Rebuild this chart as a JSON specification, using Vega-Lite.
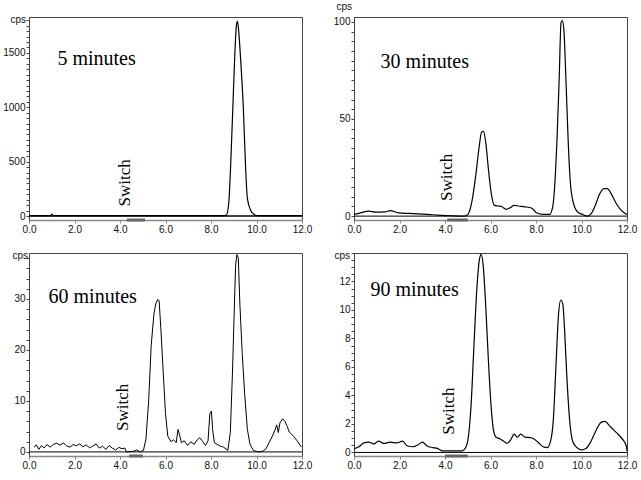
{
  "$schema": "https://vega.github.io/schema/vega-lite/v6.json",
  "padding": {"left": 2, "top": 0, "right": 2, "bottom": 0},
  "background": "white",
  "config": {
    "view": {"stroke": "#444", "strokeWidth": 1},
    "font": "Liberation Sans",
    "axis": {"grid": false, "labelFontSize": 10, "labelColor": "#111", "labelPadding": 1, "tickSize": 3, "labelOverlap": false, "labelFlush": false, "titleFontWeight": "normal", "titleFontSize": 10, "titleColor": "#111"},
    "line": {"color": "black", "strokeWidth": 1.2}
  },
  "datasets": {
    "p5": [
      {"t": 0, "cps": 5}, {"t": 0.5, "cps": 5}, {"t": 0.95, "cps": 5}, {"t": 1.0, "cps": 18}, {"t": 1.05, "cps": 5},
      {"t": 2, "cps": 5}, {"t": 3, "cps": 5}, {"t": 4, "cps": 5}, {"t": 5, "cps": 5}, {"t": 6, "cps": 5}, {"t": 7, "cps": 5},
      {"t": 8, "cps": 5}, {"t": 8.6, "cps": 5}, {"t": 8.68, "cps": 10}, {"t": 8.78, "cps": 120}, {"t": 8.88, "cps": 550},
      {"t": 8.96, "cps": 1000}, {"t": 9.05, "cps": 1500}, {"t": 9.12, "cps": 1760}, {"t": 9.16, "cps": 1790}, {"t": 9.2, "cps": 1740},
      {"t": 9.3, "cps": 1450}, {"t": 9.42, "cps": 1000}, {"t": 9.52, "cps": 450}, {"t": 9.6, "cps": 160}, {"t": 9.75, "cps": 50},
      {"t": 9.9, "cps": 15}, {"t": 10.0, "cps": 5}, {"t": 11, "cps": 5}, {"t": 12, "cps": 5}
    ],
    "p30": [
      {"t": 0, "cps": 0.9}, {"t": 0.29, "cps": 1.7}, {"t": 0.65, "cps": 2.6}, {"t": 0.94, "cps": 2.1}, {"t": 1.37, "cps": 2.2},
      {"t": 1.59, "cps": 2.8}, {"t": 1.95, "cps": 1.7}, {"t": 2.38, "cps": 1.4}, {"t": 2.82, "cps": 1.2}, {"t": 3.25, "cps": 0.9},
      {"t": 3.68, "cps": 0.5}, {"t": 4.26, "cps": 0.2}, {"t": 4.84, "cps": 0}, {"t": 5.01, "cps": 0.9}, {"t": 5.2, "cps": 8.6},
      {"t": 5.35, "cps": 20.8}, {"t": 5.49, "cps": 34.6}, {"t": 5.61, "cps": 43.3}, {"t": 5.69, "cps": 43.6}, {"t": 5.79, "cps": 38},
      {"t": 5.91, "cps": 24}, {"t": 6.03, "cps": 12}, {"t": 6.17, "cps": 5.5}, {"t": 6.36, "cps": 5.2}, {"t": 6.5, "cps": 4.8},
      {"t": 6.69, "cps": 3.5}, {"t": 6.86, "cps": 4.3}, {"t": 7.04, "cps": 5.5}, {"t": 7.23, "cps": 5.2}, {"t": 7.51, "cps": 4.8},
      {"t": 7.8, "cps": 4.2}, {"t": 8.02, "cps": 1.7}, {"t": 8.31, "cps": 0.9}, {"t": 8.6, "cps": 0.9}, {"t": 8.74, "cps": 5.2},
      {"t": 8.84, "cps": 19}, {"t": 8.93, "cps": 41.5}, {"t": 9.02, "cps": 71}, {"t": 9.1, "cps": 99.5}, {"t": 9.16, "cps": 100.7},
      {"t": 9.23, "cps": 95}, {"t": 9.32, "cps": 69}, {"t": 9.41, "cps": 40}, {"t": 9.51, "cps": 17.3}, {"t": 9.64, "cps": 6.9},
      {"t": 9.83, "cps": 2.1}, {"t": 10.04, "cps": 0.9}, {"t": 10.26, "cps": 0}, {"t": 10.45, "cps": 1.7}, {"t": 10.62, "cps": 6},
      {"t": 10.79, "cps": 11.2}, {"t": 10.98, "cps": 14.2}, {"t": 11.13, "cps": 14.2}, {"t": 11.32, "cps": 11.2}, {"t": 11.49, "cps": 7.3},
      {"t": 11.71, "cps": 3.5}, {"t": 11.92, "cps": 1.4}, {"t": 12, "cps": 0.9}
    ],
    "p60": [
      {"t": 0.22, "cps": 0.94}, {"t": 0.32, "cps": 1.38}, {"t": 0.43, "cps": 0.5}, {"t": 0.55, "cps": 1.26}, {"t": 0.65, "cps": 0.75},
      {"t": 0.79, "cps": 1.45}, {"t": 0.93, "cps": 0.94}, {"t": 1.08, "cps": 1.5}, {"t": 1.22, "cps": 1.7}, {"t": 1.36, "cps": 1.32},
      {"t": 1.51, "cps": 1.76}, {"t": 1.65, "cps": 1.2}, {"t": 1.8, "cps": 0.94}, {"t": 1.94, "cps": 1.45}, {"t": 2.08, "cps": 1.2},
      {"t": 2.23, "cps": 1.57}, {"t": 2.37, "cps": 1.0}, {"t": 2.51, "cps": 1.38}, {"t": 2.66, "cps": 0.82}, {"t": 2.8, "cps": 1.13},
      {"t": 2.95, "cps": 1.57}, {"t": 3.09, "cps": 0.75}, {"t": 3.23, "cps": 1.13}, {"t": 3.38, "cps": 0.5}, {"t": 3.52, "cps": 1.26},
      {"t": 3.66, "cps": 0.75}, {"t": 3.81, "cps": 0.38}, {"t": 3.95, "cps": 0.88}, {"t": 4.09, "cps": 0.63}, {"t": 4.21, "cps": 0.75},
      {"t": 4.28, "cps": 0}, {"t": 4.6, "cps": 0.13}, {"t": 4.74, "cps": 0.38}, {"t": 4.89, "cps": 0}, {"t": 5.03, "cps": 0.31},
      {"t": 5.14, "cps": 2.5}, {"t": 5.26, "cps": 10}, {"t": 5.37, "cps": 20.8}, {"t": 5.49, "cps": 27}, {"t": 5.57, "cps": 29},
      {"t": 5.66, "cps": 29.9}, {"t": 5.72, "cps": 29.6}, {"t": 5.8, "cps": 23.9}, {"t": 5.89, "cps": 16.4}, {"t": 6.0, "cps": 7.5},
      {"t": 6.1, "cps": 3.1}, {"t": 6.24, "cps": 2.0}, {"t": 6.35, "cps": 2.4}, {"t": 6.47, "cps": 1.8}, {"t": 6.55, "cps": 4.4},
      {"t": 6.61, "cps": 3.5}, {"t": 6.7, "cps": 1.8}, {"t": 6.82, "cps": 2.2}, {"t": 6.97, "cps": 1.26}, {"t": 7.11, "cps": 2.0},
      {"t": 7.26, "cps": 1.5}, {"t": 7.4, "cps": 2.4}, {"t": 7.5, "cps": 2.8}, {"t": 7.61, "cps": 2.2}, {"t": 7.76, "cps": 1.26},
      {"t": 7.87, "cps": 2.2}, {"t": 7.95, "cps": 7.5}, {"t": 8.02, "cps": 8.0}, {"t": 8.07, "cps": 4.4}, {"t": 8.15, "cps": 1.8},
      {"t": 8.26, "cps": 1.5}, {"t": 8.41, "cps": 1.13}, {"t": 8.55, "cps": 0.94}, {"t": 8.74, "cps": 0.31}, {"t": 8.85, "cps": 3.8},
      {"t": 8.94, "cps": 15.1}, {"t": 9.01, "cps": 25.8}, {"t": 9.08, "cps": 36.5}, {"t": 9.14, "cps": 38.7}, {"t": 9.2, "cps": 38},
      {"t": 9.27, "cps": 28.9}, {"t": 9.37, "cps": 19.5}, {"t": 9.48, "cps": 11.3}, {"t": 9.6, "cps": 4.4}, {"t": 9.71, "cps": 1.57},
      {"t": 9.86, "cps": 0.31}, {"t": 10.06, "cps": 0}, {"t": 10.27, "cps": 0.13}, {"t": 10.42, "cps": 0.63}, {"t": 10.56, "cps": 1.9},
      {"t": 10.7, "cps": 3.1}, {"t": 10.82, "cps": 4.4}, {"t": 10.89, "cps": 5.3}, {"t": 10.96, "cps": 3.8}, {"t": 11.03, "cps": 5.7},
      {"t": 11.15, "cps": 6.5}, {"t": 11.25, "cps": 6.0}, {"t": 11.35, "cps": 5.0}, {"t": 11.44, "cps": 3.9}, {"t": 11.54, "cps": 3.5},
      {"t": 11.64, "cps": 3.0}, {"t": 11.78, "cps": 2.2}, {"t": 11.97, "cps": 0.94}
    ],
    "p90": [
      {"t": 0, "cps": 0.27}, {"t": 0.22, "cps": 0.4}, {"t": 0.43, "cps": 0.67}, {"t": 0.65, "cps": 0.72}, {"t": 0.87, "cps": 0.6},
      {"t": 1.08, "cps": 0.8}, {"t": 1.3, "cps": 0.63}, {"t": 1.59, "cps": 0.72}, {"t": 1.88, "cps": 0.67}, {"t": 2.14, "cps": 0.8},
      {"t": 2.34, "cps": 0.45}, {"t": 2.6, "cps": 0.4}, {"t": 2.82, "cps": 0.54}, {"t": 3.01, "cps": 0.72}, {"t": 3.21, "cps": 0.45},
      {"t": 3.47, "cps": 0.34}, {"t": 3.68, "cps": 0.27}, {"t": 3.9, "cps": 0.11}, {"t": 4.34, "cps": 0.11}, {"t": 4.77, "cps": 0.11},
      {"t": 4.91, "cps": 0.34}, {"t": 5.03, "cps": 1.12}, {"t": 5.14, "cps": 3.15}, {"t": 5.27, "cps": 7.4}, {"t": 5.4, "cps": 11.5},
      {"t": 5.52, "cps": 13.6}, {"t": 5.59, "cps": 13.9}, {"t": 5.68, "cps": 13.1}, {"t": 5.78, "cps": 10.6}, {"t": 5.9, "cps": 6.7},
      {"t": 6.01, "cps": 3.6}, {"t": 6.13, "cps": 1.57}, {"t": 6.24, "cps": 1.08}, {"t": 6.43, "cps": 0.94}, {"t": 6.58, "cps": 0.79},
      {"t": 6.72, "cps": 0.63}, {"t": 6.89, "cps": 0.9}, {"t": 7.04, "cps": 1.28}, {"t": 7.18, "cps": 1.08}, {"t": 7.33, "cps": 1.28},
      {"t": 7.51, "cps": 1.08}, {"t": 7.8, "cps": 1.03}, {"t": 8.09, "cps": 0.72}, {"t": 8.31, "cps": 0.4}, {"t": 8.5, "cps": 0.34},
      {"t": 8.64, "cps": 0.79}, {"t": 8.76, "cps": 2.25}, {"t": 8.87, "cps": 5.8}, {"t": 8.99, "cps": 9.7}, {"t": 9.09, "cps": 10.7},
      {"t": 9.18, "cps": 10.4}, {"t": 9.26, "cps": 8.5}, {"t": 9.36, "cps": 5.2}, {"t": 9.48, "cps": 2.25}, {"t": 9.61, "cps": 0.79},
      {"t": 9.8, "cps": 0.34}, {"t": 10.0, "cps": 0.18}, {"t": 10.19, "cps": 0.27}, {"t": 10.38, "cps": 0.67}, {"t": 10.55, "cps": 1.24},
      {"t": 10.72, "cps": 1.8}, {"t": 10.87, "cps": 2.13}, {"t": 11.04, "cps": 2.18}, {"t": 11.21, "cps": 1.9}, {"t": 11.42, "cps": 1.57},
      {"t": 11.63, "cps": 1.24}, {"t": 11.82, "cps": 0.9}, {"t": 11.97, "cps": 0.45}, {"t": 12, "cps": 0.11}
    ]
  },
  "columns": 2,
  "spacing": {"row": 12, "column": 19},
  "concat": [
    {
      "width": 273, "height": 203,
      "layer": [
        {
          "data": {"name": "p5"},
          "mark": {"type": "line", "interpolate": "monotone"},
          "encoding": {
            "x": {"field": "t", "type": "quantitative", "scale": {"domain": [0, 12], "nice": false},
              "axis": {"values": [0, 2, 4, 6, 8, 10, 12], "tickCount": 100, "format": ".1f", "title": null, "labelOverlap": false, "domainColor": "#888", "domainWidth": 1.5, "tickColor": "#888"}},
            "y": {"field": "cps", "type": "quantitative", "scale": {"domain": [-36, 1830], "nice": false, "zero": false},
              "axis": {"values": [0,50,100,150,200,250,300,350,400,450,500,550,600,650,700,750,800,850,900,950,1000,1050,1100,1150,1200,1250,1300,1350,1400,1450,1500,1550,1600,1650,1700,1750,1800],
                "tickCount": 100, "labelOverlap": false, "labelExpr": "datum.value % 500 === 0 ? '' + datum.value : ''", "title": "cps", "titleAngle": 0, "titleX": -19, "titleY": 2, "titleAlign": "left", "titleBaseline": "middle", "domainColor": "#444", "tickColor": "#444"}}
          }
        },
        {"data": {"values": [{}]}, "mark": {"type": "rule", "color": "black", "strokeWidth": 1.5}, "encoding": {"y": {"datum": 0}}},
        {"data": {"values": [{}]}, "mark": {"type": "rule", "color": "#666", "strokeWidth": 3}, "encoding": {"x": {"datum": 4.3}, "x2": {"datum": 5.1}, "y": {"datum": -36}}},
        {"data": {"values": [{}]}, "mark": {"type": "text", "font": "Liberation Serif", "fontSize": 20, "align": "left", "baseline": "alphabetic", "color": "black"}, "encoding": {"x": {"datum": 1.25}, "y": {"datum": 1393}, "text": {"value": "5 minutes"}}},
        {"data": {"values": [{}]}, "mark": {"type": "text", "font": "Liberation Serif", "fontSize": 17, "angle": 270, "align": "left", "baseline": "alphabetic", "color": "black"}, "encoding": {"x": {"datum": 4.45}, "y": {"datum": 89}, "text": {"value": "Switch"}}}
      ]
    },
    {
      "width": 273, "height": 203,
      "layer": [
        {
          "data": {"name": "p30"},
          "mark": {"type": "line", "interpolate": "monotone"},
          "encoding": {
            "x": {"field": "t", "type": "quantitative", "scale": {"domain": [0, 12], "nice": false},
              "axis": {"values": [0, 2, 4, 6, 8, 10, 12], "tickCount": 100, "format": ".1f", "title": null, "labelOverlap": false, "domainColor": "#888", "domainWidth": 1.5, "tickColor": "#888"}},
            "y": {"field": "cps", "type": "quantitative", "scale": {"domain": [-2, 102.5], "nice": false, "zero": false},
              "axis": {"values": [0,5,10,15,20,25,30,35,40,45,50,55,60,65,70,75,80,85,90,95,100],
                "tickCount": 100, "labelOverlap": false, "labelExpr": "datum.value % 50 === 0 ? '' + datum.value : ''", "title": "cps", "titleAngle": 0, "titleX": -18, "titleY": -6, "titleAlign": "left", "titleBaseline": "bottom", "domainColor": "#444", "tickColor": "#444"}}
          }
        },
        {"data": {"values": [{}]}, "mark": {"type": "rule", "color": "black", "strokeWidth": 1}, "encoding": {"y": {"datum": 0}}},
        {"data": {"values": [{}]}, "mark": {"type": "rule", "color": "#666", "strokeWidth": 3}, "encoding": {"x": {"datum": 4.1}, "x2": {"datum": 5.0}, "y": {"datum": -2}}},
        {"data": {"values": [{}]}, "mark": {"type": "text", "font": "Liberation Serif", "fontSize": 20, "align": "left", "baseline": "alphabetic", "color": "black"}, "encoding": {"x": {"datum": 1.17}, "y": {"datum": 76}, "text": {"value": "30 minutes"}}},
        {"data": {"values": [{}]}, "mark": {"type": "text", "font": "Liberation Serif", "fontSize": 17, "angle": 270, "align": "left", "baseline": "alphabetic", "color": "black"}, "encoding": {"x": {"datum": 4.3}, "y": {"datum": 7.8}, "text": {"value": "Switch"}}}
      ]
    },
    {
      "width": 273, "height": 203,
      "layer": [
        {
          "data": {"name": "p60"},
          "mark": {"type": "line", "interpolate": "linear", "strokeWidth": 1},
          "encoding": {
            "x": {"field": "t", "type": "quantitative", "scale": {"domain": [0, 12], "nice": false},
              "axis": {"values": [0, 2, 4, 6, 8, 10, 12], "tickCount": 100, "format": ".1f", "title": null, "labelOverlap": false, "domainColor": "#888", "domainWidth": 1.5, "tickColor": "#888"}},
            "y": {"field": "cps", "type": "quantitative", "scale": {"domain": [-0.8, 39], "nice": false, "zero": false},
              "axis": {"values": [0,2,4,6,8,10,12,14,16,18,20,22,24,26,28,30,32,34,36,38],
                "tickCount": 100, "labelOverlap": false, "labelExpr": "datum.value % 10 === 0 ? '' + datum.value : ''", "title": "cps", "titleAngle": 0, "titleX": -17, "titleY": 2, "titleAlign": "left", "titleBaseline": "middle", "domainColor": "#444", "tickColor": "#444"}}
          }
        },
        {"data": {"values": [{}]}, "mark": {"type": "rule", "color": "black", "strokeWidth": 1}, "encoding": {"y": {"datum": 0}}},
        {"data": {"values": [{}]}, "mark": {"type": "rule", "color": "#666", "strokeWidth": 3}, "encoding": {"x": {"datum": 4.4}, "x2": {"datum": 5.0}, "y": {"datum": -0.8}}},
        {"data": {"values": [{}]}, "mark": {"type": "text", "font": "Liberation Serif", "fontSize": 20, "align": "left", "baseline": "alphabetic", "color": "black"}, "encoding": {"x": {"datum": 0.86}, "y": {"datum": 29.2}, "text": {"value": "60 minutes"}}},
        {"data": {"values": [{}]}, "mark": {"type": "text", "font": "Liberation Serif", "fontSize": 17, "angle": 270, "align": "left", "baseline": "alphabetic", "color": "black"}, "encoding": {"x": {"datum": 4.34}, "y": {"datum": 4.1}, "text": {"value": "Switch"}}}
      ]
    },
    {
      "width": 273, "height": 203,
      "layer": [
        {
          "data": {"name": "p90"},
          "mark": {"type": "line", "interpolate": "monotone"},
          "encoding": {
            "x": {"field": "t", "type": "quantitative", "scale": {"domain": [0, 12], "nice": false},
              "axis": {"values": [0, 2, 4, 6, 8, 10, 12], "tickCount": 100, "format": ".1f", "title": null, "labelOverlap": false, "domainColor": "#888", "domainWidth": 1.5, "tickColor": "#888"}},
            "y": {"field": "cps", "type": "quantitative", "scale": {"domain": [-0.25, 14], "nice": false, "zero": false},
              "axis": {"values": [0,0.5,1,1.5,2,2.5,3,3.5,4,4.5,5,5.5,6,6.5,7,7.5,8,8.5,9,9.5,10,10.5,11,11.5,12,12.5,13,13.5,14],
                "tickCount": 100, "labelOverlap": false, "labelExpr": "datum.value % 2 === 0 && datum.value < 13 ? '' + datum.value : ''", "title": "cps", "titleAngle": 0, "titleX": -20, "titleY": 2, "titleAlign": "left", "titleBaseline": "middle", "domainColor": "#444", "tickColor": "#444"}}
          }
        },
        {"data": {"values": [{}]}, "mark": {"type": "rule", "color": "black", "strokeWidth": 1}, "encoding": {"y": {"datum": 0}}},
        {"data": {"values": [{}]}, "mark": {"type": "rule", "color": "#666", "strokeWidth": 3}, "encoding": {"x": {"datum": 4.0}, "x2": {"datum": 5.0}, "y": {"datum": -0.25}}},
        {"data": {"values": [{}]}, "mark": {"type": "text", "font": "Liberation Serif", "fontSize": 20, "align": "left", "baseline": "alphabetic", "color": "black"}, "encoding": {"x": {"datum": 0.72}, "y": {"datum": 11.0}, "text": {"value": "90 minutes"}}},
        {"data": {"values": [{}]}, "mark": {"type": "text", "font": "Liberation Serif", "fontSize": 17, "angle": 270, "align": "left", "baseline": "alphabetic", "color": "black"}, "encoding": {"x": {"datum": 4.38}, "y": {"datum": 1.24}, "text": {"value": "Switch"}}}
      ]
    }
  ]
}
